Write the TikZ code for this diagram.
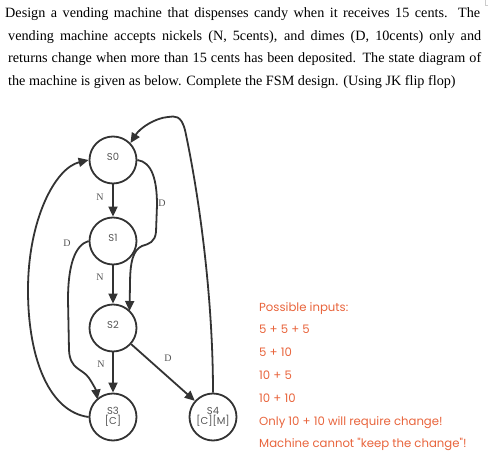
\documentclass[tikz,border=0pt]{standalone}
\usepackage{fontspec}
\setmainfont{Liberation Serif}
\newfontfamily\handfont{Poppins}
\usetikzlibrary{arrows.meta}
\definecolor{edgec}{HTML}{333333}
\definecolor{labc}{HTML}{555555}
\definecolor{orangec}{RGB}{232,100,60}
\tikzset{
  state/.style={circle, draw=edgec, line width=1.8pt, minimum size=47pt, inner sep=0pt,
    font=\handfont\fontsize{10}{11}\selectfont, text=labc, align=center},
  trans/.style={draw=edgec, line width=1.8pt, -{Triangle[length=10pt,width=9pt]}},
  elab/.style={font=\fontsize{10}{12}\selectfont, text=labc, inner sep=0pt},
  para/.style={anchor=base west, inner sep=0pt, font=\fontsize{14.2}{18}\selectfont},
  note/.style={anchor=base west, inner sep=0pt, text=orangec, font=\handfont\fontsize{11.7}{13}\selectfont}
}
\begin{document}
\begin{tikzpicture}[x=1pt,y=-1pt]
\useasboundingbox (0,0) rectangle (488,457);
% corner mark
\draw[gray!40, line width=0.6pt] (485,0) -- (485,5) -- (488,5);
% paragraph
\node[para] (p1) at (5,17.5) {\makebox[475pt][s]{Design a vending machine that dispenses candy when it receives 15 cents. The}};
\node[para] (p2) at (8,40.5) {\makebox[473pt][s]{vending machine accepts nickels (N, 5cents), and dimes (D, 10cents) only and}};
\node[para] (p3) at (8,63) {\makebox[473pt][s]{returns change when more than 15 cents has been deposited. The state diagram of}};
\node[para] (p4) at (8,85.5) {the machine is given as below. Complete the FSM design. (Using JK flip flop)};
% states
\node[state] (s0) at (113,160) {\raisebox{6pt}{S0}};
\node[state] (s1) at (113,241) {\raisebox{6pt}{S1}};
\node[state] (s2) at (113,328) {\raisebox{6pt}{S2}};
\node[state] (s3) at (113,417) {S3\\[-1pt][C]};
\node[state] (s4) at (213,417) {S4\\[-1pt][C][M]};
% transitions
\draw[trans] (s0) -- (s1);
\draw[trans] (s1) -- (s2);
\draw[trans] (s2) -- (s3);
\draw[trans] (s2) -- (s4);
\draw[trans] (s0.east) .. controls (152,162) and (157,180) .. (157,205) -- (156,232)
  .. controls (155,242) and (149,244) .. (142,246) .. controls (133,250) and (130,262) .. (130,285) -- (129.5,311);
\draw[trans] (s1.west) .. controls (75,245) and (68,265) .. (68,300) -- (69,350)
  .. controls (70,370) and (82,368) .. (89,378) .. controls (93,384) and (96,390) .. (97.5,399.5);
\draw[trans] (s3.west) .. controls (50,412) and (28,360) .. (28,290) .. controls (28,220) and (55,168) .. (s0.west);
\draw[trans] (s4.north) .. controls (213,300) and (200,200) .. (185,130) .. controls (181,115) and (175,116) .. (168,117)
  .. controls (155,118) and (140,128) .. (130.5,143);
% edge labels
\node[elab] (ln1) at (100,197) {N};
\node[elab] (ln2) at (100,277) {N};
\node[elab] (ln3) at (101,364) {N};
\node[elab] (ld1) at (162,203) {D};
\node[elab] (ld2) at (67,243) {D};
\node[elab] (ld3) at (168,358) {D};
% notes
\node[note] (n1) at (259,311.5) {Possible inputs:};
\node[note] (n2) at (259,334) {5 + 5 + 5};
\node[note] (n3) at (259,357) {5 + 10};
\node[note] (n4) at (259,380) {10 + 5};
\node[note] (n5) at (259,402.5) {10 + 10};
\node[note] (n6) at (259,425) {Only 10 + 10 will require change!};
\node[note] (n7) at (259,448) {Machine cannot "keep the change"!};
\end{tikzpicture}
\end{document}
